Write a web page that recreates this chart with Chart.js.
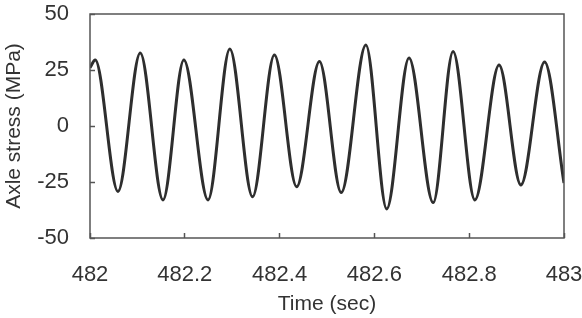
<!DOCTYPE html>
<html>
<head>
<meta charset="utf-8">
<script src="https://cdn.jsdelivr.net/npm/chart.js@4/dist/chart.umd.min.js"></script>
<style>
  html, body { margin: 0; padding: 0; background: #fff; }
  #wrap { width: 582px; height: 318px; }
</style>
</head>
<body>
<div id="wrap"><canvas id="chartStress" width="582" height="318"></canvas></div>
<script>
// --- datos ---
const tiempos = [482.000, 482.011, 482.059, 482.106, 482.154, 482.198, 482.249, 482.295, 482.343, 482.389, 482.436, 482.484,
                 482.530, 482.582, 482.626, 482.673, 482.724, 482.766, 482.812, 482.863, 482.909, 482.959, 483.000];
const tension = [26, 29.5, -29.2, 32.6, -33, 29.5, -33, 34.4, -31.6, 31.7, -27.1, 28.8,
                 -29.7, 36.2, -37, 30.4, -34.2, 33.3, -33, 27.2, -26.3, 28.6, -25.5];
const xTicks = [482, 482.2, 482.4, 482.6, 482.8, 483];
const xTickLabels = ['482', '482.2', '482.4', '482.6', '482.8', '483'];
const yTicks = [-50, -25, 0, 25, 50];
const yTickLabels = ['-50', '-25', '0', '25', '50'];

const textColor = '#333';
const axisColor = '#555';

// marco completo alrededor del área del gráfico
const frame = {
  id: 'frame',
  afterDatasetsDraw(chart) {
    const a = chart.chartArea, ctx = chart.ctx;
    ctx.save();
    ctx.strokeStyle = axisColor;
    ctx.lineWidth = 1.5;
    ctx.strokeRect(a.left, a.top, a.right - a.left, a.bottom - a.top);
    ctx.restore();
  }
};

// tamaño fijo de los ejes, sin márgenes extra por las etiquetas
function fijar(size, horizontal) {
  return s => {
    if (horizontal) s.height = size; else s.width = size;
    s.paddingLeft = s.paddingRight = s.paddingTop = s.paddingBottom = 0;
  };
}

const puntos = tiempos.map((t, i) => ({ x: t, y: tension[i] }));

new Chart(document.getElementById('chartStress').getContext('2d'), {
  type: 'line',
  data: {
    datasets: [{ data: puntos, borderColor: '#2e2e2e', borderWidth: 3, pointRadius: 0, cubicInterpolationMode: 'monotone', fill: false }]
  },
  options: {
    responsive: false,
    animation: false,
    layout: { padding: { left: 0, top: 14, right: 18, bottom: 0 } },
    plugins: { legend: { display: false }, tooltip: { enabled: false } },
    scales: {
      x: {
        type: 'linear', min: 482, max: 483,
        afterBuildTicks: s => { s.ticks = xTicks.map(v => ({ value: v })); },
        afterFit: fijar(80, true),
        ticks: { padding: 29, color: textColor, font: { family: 'Liberation Sans', size: 22 }, maxRotation: 0, autoSkip: false,
                 callback: (v) => xTickLabels[xTicks.indexOf(v)] },
        grid: { drawOnChartArea: false, drawTicks: true, tickLength: -5, tickColor: axisColor, tickWidth: 1.5 },
        border: { display: false },
        title: { display: true, text: 'Time (sec)', color: textColor, font: { family: 'Liberation Sans', size: 21 }, padding: { top: 0, bottom: 1 } }
      },
      y: {
        min: -50, max: 50,
        afterBuildTicks: s => { s.ticks = yTicks.map(v => ({ value: v })); },
        afterFit: fijar(90, false),
        ticks: { padding: 26, color: textColor, font: { family: 'Liberation Sans', size: 22 },
                 callback: (v) => yTickLabels[yTicks.indexOf(v)] },
        grid: { drawOnChartArea: false, drawTicks: true, tickLength: -5, tickColor: axisColor, tickWidth: 1.5 },
        border: { display: false },
        title: { display: true, text: 'Axle stress (MPa)', color: textColor, font: { family: 'Liberation Sans', size: 21 }, padding: { top: 2, bottom: 0 } }
      }
    }
  },
  plugins: [frame]
});
</script>
</body>
</html>
